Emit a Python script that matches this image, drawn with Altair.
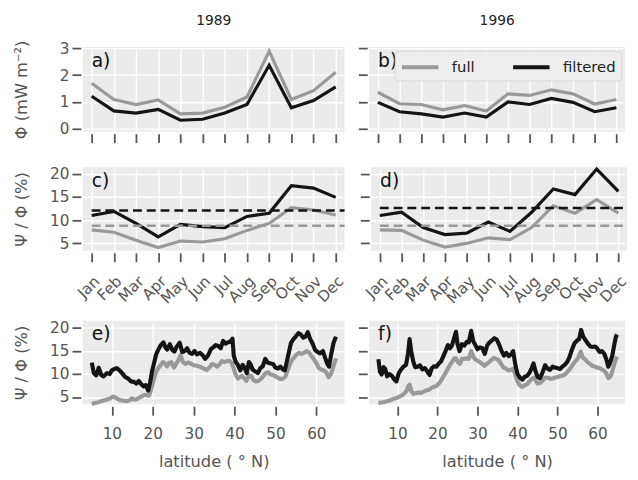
import json
import altair as alt
import pandas as pd

months = ["Jan", "Feb", "Mar", "Apr", "May", "Jun", "Jul", "Aug", "Sep", "Oct", "Nov", "Dec"]
years = ["1989", "1996"]

phi_full_1989 = [1.70, 1.09, 0.90, 1.07, 0.55, 0.58, 0.80, 1.18, 2.90, 1.09, 1.42, 2.11]
phi_filt_1989 = [1.21, 0.66, 0.58, 0.72, 0.31, 0.35, 0.58, 0.90, 2.37, 0.78, 1.05, 1.56]
phi_full_1996 = [1.36, 0.93, 0.90, 0.70, 0.86, 0.66, 1.30, 1.24, 1.45, 1.30, 0.92, 1.09]
phi_filt_1996 = [0.98, 0.63, 0.55, 0.43, 0.58, 0.43, 1.00, 0.90, 1.13, 0.98, 0.63, 0.78]

ratio_full_1989 = [7.9, 7.4, 5.7, 4.1, 5.5, 5.3, 6.0, 7.8, 9.3, 12.7, 12.2, 11.1]
ratio_filt_1989 = [11.0, 11.9, 9.3, 6.4, 9.1, 8.6, 8.4, 10.8, 11.5, 17.4, 16.9, 14.9]
ratio_full_1996 = [7.9, 7.8, 5.7, 4.2, 5.0, 6.2, 5.8, 8.4, 13.1, 11.5, 14.4, 11.5]
ratio_filt_1996 = [11.0, 11.7, 8.4, 6.9, 7.2, 9.6, 7.6, 11.7, 16.7, 15.5, 21.0, 16.2]

mean_full_1989, mean_filt_1989 = 8.8, 12.1
mean_full_1996, mean_filt_1996 = 8.8, 12.6

lat_e_filt = [5.1, 5.6, 6.2, 6.8, 7.4, 8.0, 8.8, 9.5, 10.0, 10.6, 11.2, 11.9, 12.5, 13.2, 14.0, 14.7, 15.4, 16.0, 16.6, 17.2,
              17.8, 18.3, 18.9, 19.4, 19.8, 20.3, 20.8, 21.3, 21.9, 22.6, 23.1, 23.5, 24.2, 24.8, 25.3, 25.9, 26.6, 27.2, 27.8, 28.4,
              29.0, 29.6, 30.2, 30.8, 31.6, 32.2, 32.8, 33.5, 34.2, 34.8, 35.4, 36.0, 36.6, 37.2, 37.8, 38.4, 38.9, 39.5, 39.8, 40.3,
              40.8, 41.4, 42.0, 42.5, 43.0, 43.5, 44.0, 44.4, 45.0, 45.7, 46.3, 46.9, 47.5, 48.1, 48.8, 49.4, 50.0, 50.6, 51.2, 51.8,
              52.3, 52.8, 53.3, 53.8, 54.4, 55.0, 55.6, 56.2, 56.8, 57.4, 57.9, 58.5, 59.1, 59.7, 60.3, 60.9, 61.6, 62.2, 62.7, 63.1,
              63.6, 64.2, 64.8]
val_e_filt = [12.5, 10.2, 9.7, 11.4, 9.8, 9.5, 10.2, 10.0, 10.8, 11.1, 11.3, 10.8, 10.2, 9.4, 9.0, 8.4, 8.3, 7.9, 8.5, 7.8,
              7.3, 7.6, 6.4, 8.4, 10.5, 12.3, 14.2, 15.2, 16.2, 16.9, 15.8, 15.3, 16.5, 15.2, 14.9, 16.0, 16.8, 14.8, 15.0, 15.6,
              14.6, 14.4, 15.0, 14.3, 14.6, 14.1, 13.3, 14.0, 15.4, 15.8, 16.3, 16.1, 15.6, 17.2, 16.6, 16.9, 17.0, 17.7, 14.0, 12.6,
              12.0, 10.8, 12.0, 11.3, 10.2, 12.6, 12.0, 11.0, 10.6, 10.2, 11.3, 11.7, 13.3, 12.5, 12.3, 12.2, 11.4, 11.2, 11.6, 11.0,
              10.8, 12.8, 14.8, 16.8, 17.6, 18.2, 18.9, 18.6, 17.9, 18.2, 19.1, 17.6, 16.6, 15.2, 14.8, 14.5, 15.0, 13.4, 12.2, 11.6,
              14.2, 16.8, 18.1]

lat_e_full = [5.1, 5.8, 6.5, 7.4, 8.2, 9.0, 9.6, 10.3, 10.9, 11.6, 12.2, 13.0, 13.7, 14.4, 14.9, 15.5, 16.1, 16.8, 17.4, 18.0,
              18.6, 19.1, 19.5, 19.9, 20.3, 20.8, 21.3, 21.9, 22.5, 23.0, 23.5, 24.0, 24.5, 25.2, 25.7, 26.2, 26.8, 27.4, 28.0, 28.6,
              29.3, 30.0, 30.8, 31.6, 32.4, 33.2, 33.9, 34.5, 35.1, 35.7, 36.3, 36.9, 37.5, 38.1, 38.7, 39.3, 39.8, 40.2, 40.8, 41.3,
              41.8, 42.4, 42.9, 43.5, 44.1, 44.6, 45.2, 45.8, 46.4, 47.0, 47.6, 48.2, 48.8, 49.4, 50.0, 50.6, 51.2, 51.8, 52.4, 52.9,
              53.4, 54.0, 54.6, 55.2, 55.8, 56.4, 57.0, 57.6, 58.2, 58.8, 59.4, 60.0, 60.6, 61.2, 61.8, 62.4, 63.0, 63.6, 64.2, 64.8]
val_e_full = [3.5, 3.7, 3.8, 4.1, 4.3, 4.5, 4.7, 5.1, 4.9, 4.5, 4.3, 4.2, 4.1, 4.3, 4.7, 4.4, 4.5, 4.9, 5.2, 5.5,
              5.4, 5.3, 6.3, 7.6, 9.0, 10.4, 11.2, 11.9, 12.6, 12.3, 11.7, 12.4, 12.6, 11.4, 12.2, 12.9, 14.1, 12.6, 12.2, 12.5,
              12.3, 11.9, 11.8, 11.6, 11.2, 10.9, 11.5, 12.2, 12.0, 11.6, 12.1, 12.8, 12.6, 12.8, 12.9, 12.4, 11.2, 10.0, 9.0, 9.3,
              9.6, 9.0, 8.5, 9.7, 9.6, 8.7, 8.4, 8.5, 8.9, 9.5, 10.2, 10.4, 9.9, 9.8, 9.5, 9.2, 8.9, 9.0, 9.4, 10.6,
              11.8, 13.0, 13.6, 14.3, 14.6, 14.4, 14.6, 15.0, 14.7, 13.9, 13.2, 12.4, 11.3, 11.0, 10.8, 10.4, 9.3, 10.1, 11.8, 13.4]

lat_f_filt = [5.2, 5.6, 6.0, 6.5, 6.9, 7.4, 8.0, 8.6, 9.2, 9.7, 10.3, 10.9, 11.5, 12.1, 12.6, 13.0, 13.4, 13.9, 14.4, 15.0,
              15.6, 16.2, 16.8, 17.4, 18.0, 18.5, 19.1, 19.7, 20.3, 20.9, 21.4, 22.0, 22.6, 23.1, 23.6, 24.2, 24.6, 25.0, 25.5, 26.1,
              26.7, 27.3, 27.8, 28.4, 28.9, 29.4, 30.0, 30.6, 31.2, 31.8, 32.4, 33.0, 33.6, 34.2, 34.8, 35.4, 36.0, 36.6, 37.2, 37.8,
              38.4, 38.9, 39.5, 40.0, 40.6, 41.2, 41.8, 42.4, 43.0, 43.6, 44.0, 44.5, 45.0, 45.6, 46.2, 46.9, 47.5, 48.1, 48.8, 49.4,
              50.0, 50.6, 51.2, 51.8, 52.4, 53.0, 53.6, 54.2, 54.8, 55.4, 55.9, 56.4, 57.0, 57.6, 58.2, 58.8, 59.4, 59.9, 60.5, 61.1,
              61.7, 62.2, 62.7, 63.2, 63.7, 64.2, 64.6, 64.9]
val_f_filt = [13.2, 10.5, 9.9, 11.5, 11.1, 9.5, 10.0, 9.6, 8.8, 8.4, 10.2, 11.0, 11.6, 12.0, 14.4, 17.6, 15.0, 12.8, 11.5, 11.6,
              11.9, 11.0, 11.3, 10.6, 9.8, 11.2, 11.7, 11.6, 12.3, 12.8, 13.8, 15.0, 16.3, 15.6, 16.2, 18.0, 19.2, 16.5, 15.0, 16.5,
              16.2, 17.0, 16.9, 19.4, 17.2, 16.4, 15.4, 15.8, 15.6, 14.4, 16.2, 16.9, 17.3, 17.8, 17.5, 16.4, 15.0, 14.0, 14.6, 13.9,
              14.3, 15.0, 11.8, 10.0, 9.2, 8.8, 9.4, 9.6, 10.3, 11.4, 12.3, 10.6, 9.4, 9.1, 10.2, 11.9, 11.2, 10.9, 11.6, 11.4,
              11.3, 11.1, 11.6, 12.0, 12.6, 13.7, 15.3, 16.6, 17.2, 17.6, 19.6, 18.2, 17.4, 16.6, 16.0, 15.9, 16.0, 15.6, 14.8, 15.0,
              14.4, 13.2, 11.6, 12.6, 14.0, 16.4, 18.1, 18.6]

lat_f_full = [5.2, 5.9, 6.6, 7.4, 8.2, 9.0, 9.8, 10.5, 11.2, 11.8, 12.3, 12.7, 13.0, 13.4, 13.9, 14.5, 15.2, 15.9, 16.6, 17.3,
              17.9, 18.5, 19.1, 19.7, 20.3, 20.9, 21.4, 22.0, 22.6, 23.1, 23.6, 24.2, 24.6, 25.1, 25.6, 26.1, 26.7, 27.3, 27.8, 28.4,
              28.9, 29.4, 30.0, 30.6, 31.2, 31.7, 32.3, 32.9, 33.5, 34.1, 34.7, 35.3, 35.9, 36.5, 37.1, 37.7, 38.3, 38.9, 39.4, 39.9,
              40.5, 41.1, 41.7, 42.3, 42.9, 43.5, 44.1, 44.6, 45.1, 45.7, 46.3, 46.9, 47.5, 48.1, 48.7, 49.3, 49.9, 50.5, 51.1, 51.7,
              52.3, 52.9, 53.5, 54.1, 54.7, 55.2, 55.8, 56.3, 56.9, 57.5, 58.1, 58.7, 59.3, 59.9, 60.5, 61.1, 61.7, 62.2, 62.7, 63.1,
              63.5, 64.0, 64.5, 64.9]
val_f_full = [3.7, 3.8, 3.9, 4.1, 4.3, 4.6, 4.8, 5.1, 5.4, 5.9, 6.4, 7.4, 7.7, 6.4, 5.7, 5.8, 6.0, 5.9, 6.2, 6.5,
              6.6, 7.0, 7.2, 7.4, 7.9, 8.6, 9.4, 10.2, 11.2, 12.0, 12.6, 13.4, 13.4, 12.6, 12.2, 13.3, 13.3, 13.4, 13.3, 15.0,
              13.8, 13.2, 12.9, 12.6, 12.2, 11.8, 12.2, 12.6, 13.1, 13.5, 13.3, 13.0, 12.2, 11.4, 11.2, 10.8, 10.9, 11.1, 10.0, 8.6,
              7.6, 7.2, 7.5, 7.7, 8.3, 8.9, 9.2, 8.5, 7.9, 8.1, 8.6, 9.2, 9.2, 9.0, 9.0, 9.2, 9.3, 9.5, 9.6, 9.8,
              10.3, 10.9, 11.6, 12.4, 13.0, 13.6, 14.9, 13.6, 13.2, 12.6, 12.2, 11.8, 11.6, 11.4, 11.3, 11.0, 10.7, 10.1, 9.1, 9.3,
              10.0, 11.6, 13.0, 13.8]

GRAY = "#999999"
BLACK = "#141414"
BG = "#EBEBEB"
TXT = "#555555"
FONT = "DejaVu Sans"
TICKFS = 15.5
TITLEFS = 16.5

W = 266
W2 = 260
H1 = 86
H = 85

color_scale = alt.Scale(domain=["full", "filtered"], range=[GRAY, BLACK])
month_expr = json.dumps(months) + "[datum.value]"


def monthly_df(full, filt):
    rows = []
    for i, (a, b) in enumerate(zip(full, filt)):
        rows.append({"m": i, "v": a, "s": "full"})
        rows.append({"m": i, "v": b, "s": "filtered"})
    return pd.DataFrame(rows)


def lat_df(lf, vf, lk, vk):
    rows = [{"lat": a, "v": b, "s": "full"} for a, b in zip(lf, vf)]
    rows += [{"lat": a, "v": b, "s": "filtered"} for a, b in zip(lk, vk)]
    return pd.DataFrame(rows)


def panel_label(txt):
    return alt.Chart(pd.DataFrame({"t": [txt]})).mark_text(
        align="left", baseline="middle", fontSize=19, font=FONT, color="#111111"
    ).encode(x=alt.value(9), y=alt.value(14), text="t:N")


def year_label(txt, w):
    return alt.Chart(pd.DataFrame({"t": [txt]})).mark_text(
        align="center", baseline="middle", fontSize=14, font=FONT, color="#222222"
    ).encode(x=alt.value(w / 2), y=alt.value(-26), text="t:N")


def month_axis(labels):
    return alt.Axis(
        values=list(range(12)), labels=labels, labelExpr=month_expr, title=None,
        labelAngle=-45, labelAlign="right", labelBaseline="top", labelPadding=12,
        labelOverlap=False, labelBound=False,
    )


MONTH_SCALE = alt.Scale(domain=[-0.4, 11.4], nice=False, zero=False)


def y_axis(show, title, values):
    if show:
        return alt.Axis(values=values, title=title, titleX=-60, titleBaseline="middle", titleAngle=-90,
                        labelOverlap=False)
    return alt.Axis(values=values, labels=False, title=None)


def top_panel(full, filt, year, label, show_y, legend):
    df = monthly_df(full, filt)
    w = W if show_y else W2
    if legend:
        leg = alt.Legend(
            title=None, orient="top-right", offset=4, direction="horizontal", gridAlign="none",
            symbolType="M-1,0H3", symbolSize=342, symbolStrokeWidth=4,
            labelFontSize=15, labelFont=FONT, labelColor="#222222", labelOffset=30,
            columnPadding=30, padding=5, fillColor="#EEEEEE", strokeColor="#D8D8D8",
            cornerRadius=3,
        )
        color = alt.Color("s:N", scale=color_scale, legend=leg, sort=["full", "filtered"])
    else:
        color = alt.Color("s:N", scale=color_scale, legend=None)
    lines = alt.Chart(df).mark_line(strokeWidth=3.2).encode(
        x=alt.X("m:Q", scale=MONTH_SCALE, axis=month_axis(False)),
        y=alt.Y("v:Q", scale=alt.Scale(domain=[-0.12, 3.05], nice=False, zero=False),
                axis=y_axis(show_y, "Φ (mW m⁻²)", [0, 1, 2, 3])),
        color=color,
    )
    return alt.layer(lines, panel_label(label), year_label(year, w)).properties(width=w, height=H1)


def mid_panel(full, filt, mfull, mfilt, label, show_y):
    df = monthly_df(full, filt)
    w = W if show_y else W2
    ysc = alt.Scale(domain=[3.4, 21.4], nice=False, zero=False)
    yax = y_axis(show_y, "Ψ / Φ (%)", [5, 10, 15, 20])
    lines = alt.Chart(df).mark_line(strokeWidth=3.2).encode(
        x=alt.X("m:Q", scale=MONTH_SCALE, axis=month_axis(True)),
        y=alt.Y("v:Q", scale=ysc, axis=yax),
        color=alt.Color("s:N", scale=color_scale, legend=None),
    )
    mdf = pd.DataFrame({"m": [0, 0], "x1": [11.4, 11.4], "v": [mfull, mfilt], "s": ["full", "filtered"]})
    rules = alt.Chart(mdf).mark_rule(strokeWidth=2.6, strokeDash=[9, 5]).encode(
        x=alt.X("m:Q", scale=MONTH_SCALE, axis=month_axis(True)), x2="x1:Q",
        y=alt.Y("v:Q", scale=ysc, axis=yax),
        color=alt.Color("s:N", scale=color_scale, legend=None),
    )
    return alt.layer(lines, rules, panel_label(label)).properties(width=w, height=H)


def bot_panel(lf, vf, lk, vk, label, show_y):
    df = lat_df(lf, vf, lk, vk)
    w = W if show_y else W2
    lines = alt.Chart(df).mark_line(strokeWidth=4.2, strokeJoin="round").encode(
        x=alt.X("lat:Q", scale=alt.Scale(domain=[2.9, 66.9], nice=False, zero=False),
                axis=alt.Axis(values=[10, 20, 30, 40, 50, 60], title="latitude ( ° N)", labelPadding=12,
                              titlePadding=12, labelOverlap=False)),
        y=alt.Y("v:Q", scale=alt.Scale(domain=[3.4, 21.6], nice=False, zero=False),
                axis=y_axis(show_y, "Ψ / Φ (%)", [5, 10, 15, 20])),
        color=alt.Color("s:N", scale=color_scale, legend=None),
        order=alt.Order("s:N"),
    )
    return alt.layer(lines, panel_label(label)).properties(width=w, height=H)


row1 = alt.hconcat(
    top_panel(phi_full_1989, phi_filt_1989, years[0], "a)", True, False),
    top_panel(phi_full_1996, phi_filt_1996, years[1], "b)", False, True),
    spacing=13,
).resolve_legend(color="independent")
row2 = alt.hconcat(
    mid_panel(ratio_full_1989, ratio_filt_1989, mean_full_1989, mean_filt_1989, "c)", True),
    mid_panel(ratio_full_1996, ratio_filt_1996, mean_full_1996, mean_filt_1996, "d)", False),
    spacing=13,
).resolve_legend(color="independent")
row3 = alt.hconcat(
    bot_panel(lat_e_full, val_e_full, lat_e_filt, val_e_filt, "e)", True),
    bot_panel(lat_f_full, val_f_full, lat_f_filt, val_f_filt, "f)", False),
    spacing=13,
).resolve_legend(color="independent")

upper = alt.vconcat(row1, row2, spacing=19).resolve_legend(color="independent")

chart = alt.vconcat(upper, row3, spacing=14).resolve_legend(color="independent").properties(
    padding={"left": 6, "top": 3, "right": 0, "bottom": 0}
).configure_view(
    fill=BG, strokeWidth=0
).configure_axis(
    domain=False, tickColor=TXT, tickSize=9, tickWidth=1.8, offset=2,
    grid=True, gridColor="white", gridWidth=1.4, gridOpacity=1,
    labelColor=TXT, labelFontSize=TICKFS, labelFont=FONT, labelPadding=3,
    titleColor=TXT, titleFontSize=TITLEFS, titleFont=FONT, titleFontWeight="normal",
)

chart.save("out.html", embed_options={"renderer": "svg", "actions": False})
